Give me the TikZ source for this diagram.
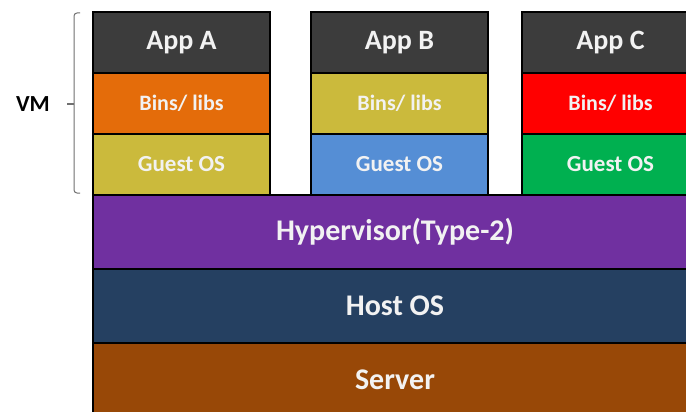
\documentclass[tikz,border=0pt]{standalone}
\usepackage{fontspec}
\setmainfont{Carlito}
\usepackage{tikz}
\usetikzlibrary{positioning}
\definecolor{laytext}{HTML}{F2F2F2}
\definecolor{appgray}{HTML}{3C3C3C}
\definecolor{binsorange}{HTML}{E46C0A}
\definecolor{olive}{HTML}{CBBA3C}
\definecolor{guestblue}{HTML}{558ED5}
\definecolor{binsred}{HTML}{FF0000}
\definecolor{guestgreen}{HTML}{00B050}
\definecolor{hyperpurple}{HTML}{7030A0}
\definecolor{hostblue}{HTML}{254061}
\definecolor{serverbrown}{HTML}{984807}
\definecolor{bracegray}{HTML}{707070}
\tikzset{layer/.style = {draw=black, line width=1.3pt, inner sep=0, outer sep=0, text=laytext}}
\tikzset{vmbox/.style = {layer, minimum width=177pt, minimum height=61pt}}
\tikzset{appbox/.style = {vmbox, fill=appgray, anchor=north west, font=\bfseries\fontsize{28}{32}\selectfont}}
\tikzset{binsbox/.style = {vmbox, font=\bfseries\fontsize{22}{26}\selectfont}}
\tikzset{guestbox/.style = {vmbox, font=\bfseries\fontsize{23}{27}\selectfont}}
\tikzset{bar/.style = {layer, minimum width=604pt, minimum height=74pt, font=\bfseries\fontsize{30}{34}\selectfont}}

\begin{document}
\begin{tikzpicture}[x=1pt, y=-1pt]
      \clip (0,0) rectangle (686,412);
      \fill [white] (0,0) rectangle (686,412);

      \node [bar, fill=hyperpurple, anchor=north west] (hyp) at (93,195) {Hypervisor(Type-2)};
      \node [bar, fill=hostblue, below=0pt of hyp] (host) {Host OS};
      \node [bar, fill=serverbrown, below=0pt of host] (srv) {Server};

      \node [appbox] (appa) at (93,12) {App A};
      \node [binsbox, fill=binsorange, below=0pt of appa] (binsa) {Bins/ libs};
      \node [guestbox, fill=olive, below=0pt of binsa] (guesta) {Guest OS};

      \node [appbox] (appb) at (311,12) {App B};
      \node [binsbox, fill=olive, below=0pt of appb] (binsb) {Bins/ libs};
      \node [guestbox, fill=guestblue, below=0pt of binsb] (guestb) {Guest OS};

      \node [appbox] (appc) at (522,12) {App C};
      \node [binsbox, fill=binsred, below=0pt of appc] (binsc) {Bins/ libs};
      \node [guestbox, fill=guestgreen, below=0pt of binsc] (guestc) {Guest OS};

      \coordinate (vmtip) at (67,104);
      \draw [bracegray, line width=1pt, rounded corners=3pt]
        (80,13) -- (74,13) -- (74,193) -- (80,193);
      \draw [bracegray, line width=1.2pt] (74,104) -- (vmtip);
      \node [font=\bfseries\fontsize{23}{27}\selectfont] (vm) at (33,104) {VM};
    \end{tikzpicture}
\end{document}
